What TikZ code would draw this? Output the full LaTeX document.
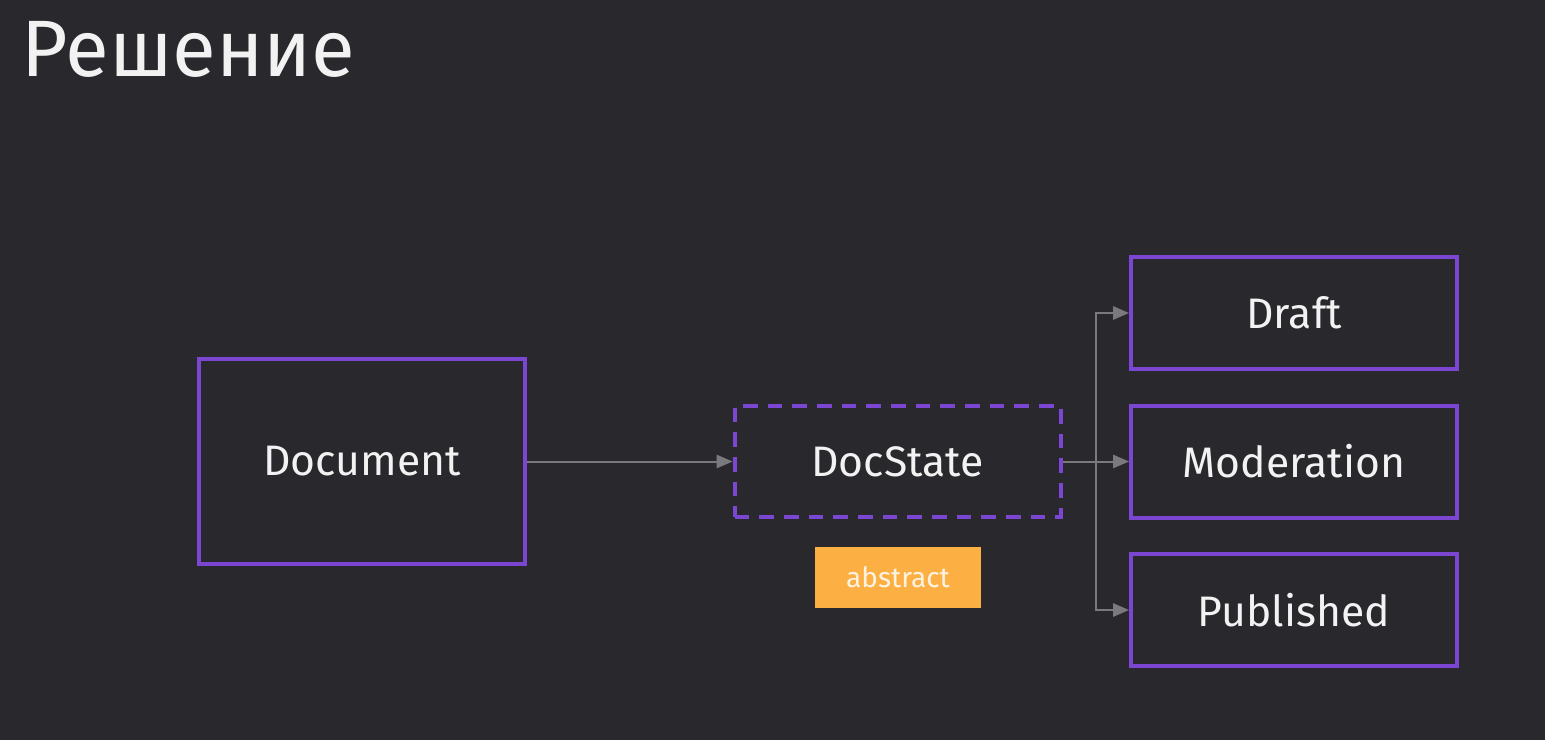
\documentclass[tikz,border=0pt]{standalone}
\usepackage{fontspec}
\setmainfont{Fira Sans}
\usetikzlibrary{arrows.meta}

\definecolor{slidebg}{HTML}{28282D}
\definecolor{boxpurple}{HTML}{7A46D2}
\definecolor{tagorange}{HTML}{FCB043}
\definecolor{linkgrey}{HTML}{7A7A7E}
\definecolor{textwhite}{HTML}{F2F2F2}

\tikzset{
  classbox/.style={draw=boxpurple, line width=3pt, text=textwhite,
    minimum width=244.5pt, font=\fontsize{32}{36}\selectfont},
  abstractbox/.style={classbox, dash pattern=on 11pt off 7.5pt},
  tagbox/.style={fill=tagorange, text=white!85!tagorange, minimum width=124.5pt,
    minimum height=45.75pt, font=\fontsize{21}{24}\selectfont},
  link/.style={draw=linkgrey, line width=1.5pt, -{Triangle[length=12pt,width=10pt]}},
}

\begin{document}
\begin{tikzpicture}[x=0.75pt,y=0.75pt,yscale=-1,xscale=1]
%background, sets the page to 1545 x 740
\path[fill=slidebg] (0,0) rectangle (1545,740);

% Title
\node (title) [anchor=base west, inner sep=0pt, text=textwhite,
  font=\fontsize{60}{68}\selectfont] at (21,76) {Решение};

% Context
\node (doc) [classbox, minimum height=153.75pt] at (362,461.5) {Document};
% State interface
\node (state) [abstractbox, minimum height=83.25pt] at (897.5,461.5) {DocState};
\node (tag) [tagbox] at (898,577.5) {abstract};

% Concrete states
\node (draft) [classbox, minimum height=84pt] at (1294,313) {Draft};
\node (moder) [classbox, minimum height=84pt] at (1294,461.5) {Moderation};
\node (pub) [classbox, minimum height=84pt] at (1294,610) {Published};

% Connectors
\coordinate (fork) at (1096,461.5);
\draw[link] (doc) -- (state);
\draw[link] (state) -- (moder);
\draw[link] (fork) |- (draft);
\draw[link] (fork) |- (pub);

\end{tikzpicture}
\end{document}
